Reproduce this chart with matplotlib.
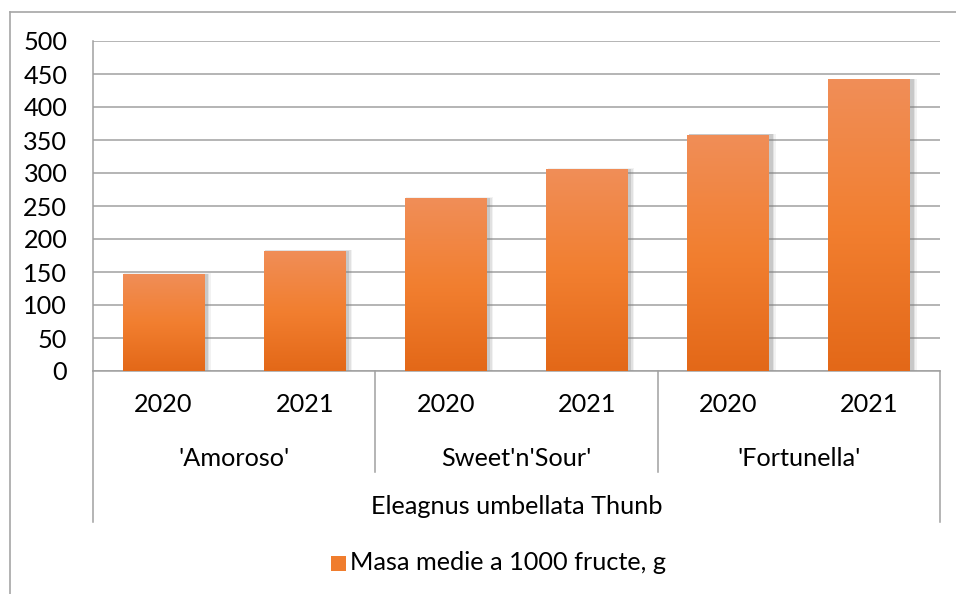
import matplotlib
matplotlib.use("Agg")
import matplotlib.pyplot as plt
import numpy as np
from matplotlib.lines import Line2D
from matplotlib.patches import Rectangle
from matplotlib.colors import LinearSegmentedColormap
import matplotlib.transforms as mtransforms

# ---- data ----
years = ["2020", "2021", "2020", "2021", "2020", "2021"]
groups = ["'Amoroso'", "Sweet'n'Sour'", "'Fortunella'"]
super_label = "Eleagnus umbellata Thunb"
series_name = "Masa medie a 1000 fructe, g"
values = [147, 182, 262, 306, 358, 442]
yticks = [0, 50, 100, 150, 200, 250, 300, 350, 400, 450, 500]

plt.rcParams['font.family'] = ['Lato', 'DejaVu Sans']
FS = 18.2
GRID = '#A0A0A0'

W, H = 956, 594
fig = plt.figure(figsize=(W / 100, H / 100), dpi=100)
fig.patch.set_facecolor('white')

# plot area in pixels
L, R, T, B = 93, 940, 41, 371
ax = fig.add_axes([L / W, 1 - B / H, (R - L) / W, (B - T) / H])

n = len(values)
x = np.arange(n)
ax.set_xlim(-0.5, n - 0.5)
ax.set_ylim(0, 500)
ax.set_yticks(yticks)
ax.set_yticklabels([str(v) for v in yticks], fontsize=FS)
ax.tick_params(axis='y', length=0, pad=18.5)
ax.set_xticks([])
ax.yaxis.grid(True, color=GRID, linewidth=1.1)
ax.set_axisbelow(True)
for s in ['top', 'right']:
    ax.spines[s].set_visible(False)
ax.spines['left'].set_color(GRID)
ax.spines['bottom'].set_color(GRID)
ax.spines['left'].set_linewidth(1.1)
ax.spines['bottom'].set_linewidth(1.1)

# gradient colours
cmap = LinearSegmentedColormap.from_list(
    'og', [(0.0, '#E36818'), (0.5, '#F27F30'), (1.0, '#F08E58')])
grad = np.linspace(0, 1, 256).reshape(-1, 1)

bw = 0.58
bars = ax.bar(x, values, width=bw, color='none', edgecolor='none', zorder=3)
for b, v in zip(bars, values):
    x0 = b.get_x()
    # soft shadow
    for k, a in zip([0.10, 0.07, 0.04], [0.10, 0.15, 0.25]):
        sh = Rectangle((x0 + 0.01, -1), bw + k * 0.35, v + 1 + k * 10,
                       facecolor='#808080', edgecolor='none', alpha=a, zorder=2)
        ax.add_patch(sh)
    im = ax.imshow(grad, extent=[x0, x0 + bw, 0, v], origin='lower',
                   aspect='auto', cmap=cmap, zorder=4)
    clip = Rectangle((x0, 0), bw, v, transform=ax.transData)
    im.set_clip_path(clip)
ax.set_xlim(-0.5, n - 0.5)
ax.set_ylim(0, 500)

# category axis labels
trans = mtransforms.blended_transform_factory(ax.transData, ax.transAxes)
def fy(py):
    return (B - py) / (B - T)

for xi, lab in zip(x, years):
    ax.text(xi, fy(405), lab, transform=trans, ha='center', va='center',
            fontsize=FS, clip_on=False)
for gi, g in enumerate(groups):
    ax.text(2 * gi + 0.5, fy(458), g, transform=trans, ha='center', va='center',
            fontsize=FS, clip_on=False)
ax.text(0.5, fy(507), super_label, transform=ax.transAxes, ha='center',
        va='center', fontsize=FS, clip_on=False)

# separators
for xb in [1.5, 3.5]:
    ax.add_line(Line2D([xb, xb], [0, fy(472)], transform=trans, color=GRID,
                       lw=1.1, clip_on=False))
for xb in [-0.5, n - 0.5]:
    ax.add_line(Line2D([xb, xb], [0, fy(522)], transform=trans, color=GRID,
                       lw=1.1, clip_on=False))

# legend
lx, ly = 331, 563
fig.patches.append(Rectangle((lx / W, 1 - (ly + 8) / H), 15 / W, 15 / H,
                             transform=fig.transFigure, facecolor='#F07D2E',
                             edgecolor='none'))
fig.text((lx + 19) / W, 1 - ly / H, series_name, ha='left', va='center',
         fontsize=FS)

# chart border (partially visible)
fig.add_artist(Line2D([10 / W, 10 / W], [0, 1 - 12 / H], transform=fig.transFigure,
                      color='#A6A6A6', lw=1.2))
fig.add_artist(Line2D([10 / W, 1], [1 - 12 / H, 1 - 12 / H], transform=fig.transFigure,
                      color='#A6A6A6', lw=1.2))

fig.savefig('out.png', dpi=100)
